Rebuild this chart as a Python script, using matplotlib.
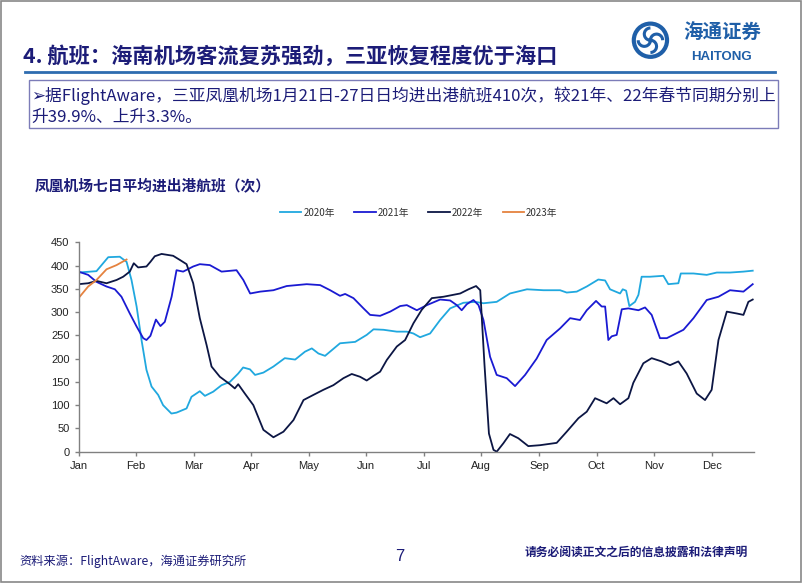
import matplotlib
matplotlib.use("Agg")
import matplotlib.pyplot as plt
from matplotlib.patches import Rectangle, Circle, Arc
import numpy as np

plt.rcParams['font.family'] = ['Noto Sans CJK SC', 'DejaVu Sans']

## DATA (day of year, flights per day)
days_2020 = [0, 9.5, 15.7, 21.8, 25.4, 28, 30.7, 33.3, 35.9, 38.6, 42.1, 44.7, 49.1, 51.8, 57.1, 59.7,
             64.1, 66.8, 71.2, 75.6, 80, 84.4, 87, 90.6, 93.3, 97.7, 103, 109, 114.5, 119.7, 123.3,
             126.8, 130.3, 138.2, 146.2, 152.3, 155.9, 161.2, 168.2, 173.5, 177, 180.5, 185.8, 191.1,
             196.4, 203.4, 209.6, 214, 221, 228, 237, 245.7, 254.5, 258, 263.3, 268.6, 274.7, 278.3,
             280.9, 286.2, 287.6, 289.4, 291.1, 294.1, 295.9, 297.6, 302, 309.1, 311.7, 317, 318.3,
             325, 332, 337.3, 344.3, 351.4, 356.3]
vals_2020 = [385, 388, 418, 419, 408, 369, 312, 240, 176, 140, 122, 100, 82, 84, 93, 118,
             130, 120, 129, 143, 150, 168, 181, 177, 165, 170, 183, 201, 198, 215, 222,
             211, 206, 233, 236, 251, 263, 262, 258, 258, 254, 246, 254, 283,
             308, 320, 322, 319, 322, 340, 349, 347, 347, 342, 344, 355, 370, 368,
             349, 340, 349, 346, 313, 322, 337, 376, 376, 378, 360, 362, 383,
             383, 380, 385, 385, 387, 389]

days_2021 = [0, 5.1, 9.5, 14.8, 19.2, 22.7, 27.1, 30.7, 34.2, 35.9, 38, 40.9, 43.3, 45.6, 49.2, 51.8,
             55.3, 60.6, 64.1, 69.4, 75.6, 83.5, 87.1, 90.7, 96, 103, 110, 120.6, 127.7, 133,
             138.2, 140.9, 145.3, 150.6, 154.1, 159.4, 164.7, 170, 173.5, 178.8, 184.1, 191.1,
             196.4, 199.9, 202.5, 205.2, 208.7, 211.4, 214, 217.5, 221, 226.3, 230.7, 236,
             242.1, 247.4, 254.5, 259.8, 265, 268.6, 273.5, 276.5, 278.3, 280, 281.8, 284.4,
             287.1, 290.6, 295.9, 299.4, 302.9, 307.3, 310.9, 319.7, 325, 332, 338.2, 344.3,
             351.4, 356.3]
vals_2021 = [387, 380, 365, 355, 349, 333, 297, 269, 244, 240, 249, 284, 270, 279, 333, 390,
             387, 398, 403, 401, 387, 390, 369, 340, 344, 347, 356, 360, 358, 347,
             335, 339, 330, 308, 294, 292, 301, 313, 315, 304, 315, 327,
             325, 315, 304, 317, 326, 315, 283, 204, 165, 158, 141, 165,
             200, 240, 265, 287, 283, 304, 324, 312, 312, 240, 248, 251,
             306, 308, 304, 310, 294, 244, 244, 262, 287, 326, 333, 347,
             344, 360]

days_2022 = [0, 5.1, 9.5, 14.8, 20.1, 23.6, 27.1, 29.2, 31.5, 35.9, 38, 40.3, 43.9, 50, 53.6, 57.1,
             60.6, 64.1, 67.7, 70.3, 74.7, 80, 82.6, 84.4, 87.9, 92.4, 97.7, 103, 108.3, 113.6,
             118.9, 124.1, 129.4, 134.7, 140, 144.4, 148.8, 152.3, 155.9, 159.4, 162.9, 168.2,
             172.6, 177, 181.4, 186.7, 192.9, 201.7, 206.1, 210.1, 212.3, 214.5, 216.9, 219.3,
             221, 224.5, 228, 232.4, 237.7, 243.9, 252.7, 258, 264.2, 268.6, 273, 279.1, 282.7,
             286.2, 290.6, 293.2, 298.5, 302.9, 308.2, 312.6, 317, 321.4, 326.7, 331.1, 334.6,
             338.2, 342.6, 347.9, 351.4, 354, 356.3]
vals_2022 = [360, 362, 367, 362, 369, 376, 387, 405, 396, 398, 408, 420, 425, 421, 412, 403,
             362, 287, 229, 183, 161, 145, 136, 145, 125, 100, 47, 31, 43, 68,
             111, 122, 133, 143, 158, 167, 161, 153, 163, 172, 197, 226,
             240, 276, 305, 330, 333, 340, 349, 356, 347, 190, 39, 4,
             0, 18, 38, 29, 12, 14, 19, 43, 72, 86, 115, 104, 115,
             102, 115, 148, 190, 201, 194, 186, 194, 168, 125, 111, 133,
             240, 301, 297, 294, 322, 327]

days_2023 = [0, 5.1, 9.5, 14.8, 20.1, 25.4]
vals_2023 = [330, 355, 369, 392, 401, 413]

series = [
    ("2020年", days_2020, vals_2020, "#20A8DF"),
    ("2021年", days_2021, vals_2021, "#1A1AD2"),
    ("2022年", days_2022, vals_2022, "#0C1644"),
    ("2023年", days_2023, vals_2023, "#E5823F"),
]
months = ["Jan", "Feb", "Mar", "Apr", "May", "Jun", "Jul", "Aug", "Sep", "Oct", "Nov", "Dec"]

NAVY = "#1C1C78"
LOGO = "#1F5FA8"

fig = plt.figure(figsize=(8.02, 5.83), dpi=100)

# slide frame
fig.patches.append(Rectangle((0.001, 0.001), 0.998, 0.997, transform=fig.transFigure,
                             fill=False, ec="#888888", lw=1.2))

# header
fig.text(0.029, 0.903, "4. 航班：海南机场客流复苏强劲，三亚恢复程度优于海口",
         fontsize=15.3, fontweight="bold", color=NAVY, va="center")
fig.add_artist(plt.Line2D([0.031, 0.966], [0.876, 0.876], color="#2E6CB0", lw=2))

# logo (rough emblem)
lax = fig.add_axes([0.787, 0.898, 0.048, 0.066])
lax.set_aspect("equal")
lax.set_xlim(-1.1, 1.1)
lax.set_ylim(-1.1, 1.1)
lax.axis("off")
lax.add_patch(Circle((0, 0), 0.95, fill=False, ec=LOGO, lw=3))
for ang in [0, 90, 180, 270]:
    lax.add_patch(Arc((0.35 * np.cos(np.radians(ang)), 0.35 * np.sin(np.radians(ang))),
                      0.7, 0.7, theta1=ang, theta2=ang + 200, color=LOGO, lw=2.2))
fig.text(0.9, 0.943, "海通证券", fontsize=14, color=LOGO, ha="center", va="center",
         fontweight="bold", style="italic")
fig.text(0.9, 0.903, "HAITONG", fontsize=9.5, color=LOGO, ha="center", va="center",
         fontweight="bold", family=["Liberation Sans", "DejaVu Sans"])

# summary box
fig.patches.append(Rectangle((0.036, 0.78), 0.934, 0.082, transform=fig.transFigure,
                             fill=False, ec="#7C7CB8", lw=1))
fig.text(0.039, 0.835, "➢据FlightAware，三亚凤凰机场1月21日-27日日均进出港航班410次，较21年、22年春节同期分别上",
         fontsize=12.05, color=NAVY, va="center", family=["Noto Sans CJK SC", "DejaVu Sans"])
fig.text(0.039, 0.799, "升39.9%、上升3.3%。", fontsize=12.05, color=NAVY, va="center")

# chart title
fig.text(0.043, 0.683, "凤凰机场七日平均进出港航班（次）", fontsize=10.6, color=NAVY,
         fontweight="bold", va="center")

ax = fig.add_axes([0.0979, 0.2252, 0.8423, 0.3592])
for name, d, v, c in series:
    ax.plot(d, v, color=c, lw=1.3, label=name)

ax.set_xlim(0, 357)
ax.set_ylim(0, 450)
ax.set_yticks(np.arange(0, 451, 50))
ax.set_xticks([i * 365 / 12 for i in range(12)])
ax.set_xticklabels(months)
for s in ["top", "right"]:
    ax.spines[s].set_visible(False)
for s in ["left", "bottom"]:
    ax.spines[s].set_color("#808080")
    ax.spines[s].set_linewidth(1)
ax.tick_params(labelsize=8, colors="#808080", labelcolor="#222222", length=3, width=1)
for lbl in ax.get_xticklabels() + ax.get_yticklabels():
    lbl.set_family(["Liberation Sans", "DejaVu Sans"])

fig.legend(loc="center", bbox_to_anchor=(0.522, 0.635), ncol=4, frameon=False,
           fontsize=7, handlelength=2.2, columnspacing=2.0, handletextpad=0.2,
           labelcolor="#333333")

# footer
fig.text(0.024, 0.038, "资料来源：FlightAware，海通证券研究所", fontsize=8.8, color=NAVY, va="center")
fig.text(0.498, 0.045, "7", fontsize=12, color=NAVY, ha="center", va="center",
         family=["Liberation Sans", "DejaVu Sans"])
fig.text(0.932, 0.053, "请务必阅读正文之后的信息披露和法律声明", fontsize=8.5, color=NAVY,
         fontweight="bold", ha="right", va="center")

fig.savefig("out.png", dpi=100)
